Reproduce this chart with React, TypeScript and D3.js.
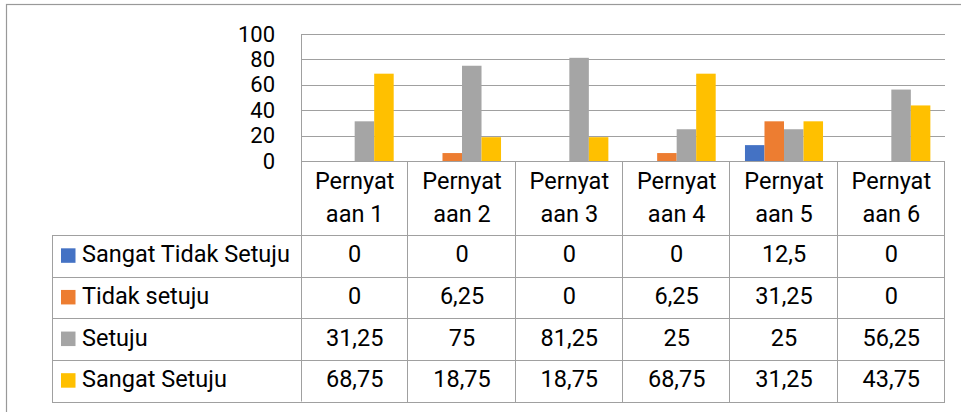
import React from "react";
import * as d3 from "d3";

const categories = ["Pernyataan 1", "Pernyataan 2", "Pernyataan 3", "Pernyataan 4", "Pernyataan 5", "Pernyataan 6"];
const headerLine1 = ["Pernyat", "Pernyat", "Pernyat", "Pernyat", "Pernyat", "Pernyat"];
const headerLine2 = ["aan 1", "aan 2", "aan 3", "aan 4", "aan 5", "aan 6"];
const seriesNames = ["Sangat Tidak Setuju", "Tidak setuju", "Setuju", "Sangat Setuju"];
const sangatTidakSetuju = [0, 0, 0, 0, 12.5, 0];
const tidakSetuju = [0, 6.25, 0, 6.25, 31.25, 0];
const setuju = [31.25, 75, 81.25, 25, 25, 56.25];
const sangatSetuju = [68.75, 18.75, 18.75, 68.75, 31.25, 43.75];
const yTicks = [0, 20, 40, 60, 80, 100];
const colors = ["#4472C4", "#ED7D31", "#A5A5A5", "#FFC000"];

const seriesValues = [sangatTidakSetuju, tidakSetuju, setuju, sangatSetuju];

const W = 961;
const H = 412;
const plotLeft = 301;
const plotRight = 945;
const plotTop = 34;
const plotBottom = 161;
const headerBottom = 235;
const tableBottom = 401.5;
const tableLeft = 52;
const lineColor = "#A0A0A0";
const font = "Roboto, 'Noto Sans', sans-serif";
const fmt = (v: number) => String(v).replace(".", ",");

export default function App() {
  const x = d3.scaleBand<string>().domain(categories).range([plotLeft, plotRight]).paddingInner(0).paddingOuter(0);
  const xs = d3
    .scaleBand<string>()
    .domain(seriesNames)
    .range([0, x.bandwidth()])
    .paddingInner(0)
    .paddingOuter(0.75);
  const y = d3.scaleLinear().domain([0, 100]).range([plotBottom, plotTop]);
  const rows = d3.scaleBand<string>().domain(seriesNames).range([headerBottom, tableBottom]);

  return (
    <svg
      width={W}
      height={H}
      style={{ position: "absolute", left: 0, top: 0, background: "#fff" }}
      fontFamily={font}
    >
      <rect x={0} y={0} width={W} height={H} fill="#fff" />
      {/* outer chart border */}
      <rect x={6.5} y={4.5} width={W + 20} height={H + 20} fill="none" stroke="#999" strokeWidth={1.2} />

      {/* gridlines */}
      {yTicks.map((t) => (
        <line
          key={"g" + t}
          x1={plotLeft}
          x2={plotRight}
          y1={Math.round(y(t)) + 0.5}
          y2={Math.round(y(t)) + 0.5}
          stroke={lineColor}
          strokeWidth={1}
        />
      ))}
      {/* y tick labels */}
      {yTicks.map((t) => (
        <text key={"t" + t} x={275} y={y(t) + 7.5} textAnchor="end" fontSize={22} fill="#000">
          {t}
        </text>
      ))}

      {/* bars */}
      {categories.map((c, ci) =>
        seriesNames.map((s, si) => {
          const v = seriesValues[si][ci];
          if (v <= 0) return null;
          return (
            <rect
              key={c + s}
              x={(x(c) as number) + (xs(s) as number)}
              y={y(v)}
              width={xs.bandwidth()}
              height={plotBottom - y(v)}
              fill={colors[si]}
            />
          );
        })
      )}

      {/* value axis line */}
      <line x1={plotLeft + 0.5} x2={plotLeft + 0.5} y1={plotTop} y2={tableBottom} stroke={lineColor} />

      {/* table horizontal lines */}
      {seriesNames.map((s) => (
        <line
          key={"h" + s}
          x1={tableLeft}
          x2={plotRight}
          y1={Math.round(rows(s) as number) + 0.5}
          y2={Math.round(rows(s) as number) + 0.5}
          stroke={lineColor}
        />
      ))}
      <line x1={tableLeft} x2={plotRight} y1={Math.round(tableBottom) + 0.5} y2={Math.round(tableBottom) + 0.5} stroke={lineColor} />
      {/* table left edge */}
      <line x1={tableLeft + 0.5} x2={tableLeft + 0.5} y1={headerBottom} y2={tableBottom + 1} stroke={lineColor} />
      {/* category boundaries */}
      {categories.map((c) => (
        <line
          key={"v" + c}
          x1={Math.round((x(c) as number) + x.bandwidth()) - 0.5}
          x2={Math.round((x(c) as number) + x.bandwidth()) - 0.5}
          y1={plotBottom}
          y2={tableBottom + 1}
          stroke={lineColor}
        />
      ))}

      {/* header labels */}
      {categories.map((c, ci) => {
        const cx = (x(c) as number) + x.bandwidth() / 2;
        return (
          <g key={"hd" + c}>
            <text x={cx} y={189} textAnchor="middle" fontSize={23.5} fill="#000">
              {headerLine1[ci]}
            </text>
            <text x={cx} y={222} textAnchor="middle" fontSize={23.5} fill="#000">
              {headerLine2[ci]}
            </text>
          </g>
        );
      })}

      {/* rows */}
      {seriesNames.map((s, si) => {
        const ry = rows(s) as number;
        const cy = ry + rows.bandwidth() / 2;
        return (
          <g key={"r" + s}>
            <rect x={61} y={cy - 7.5} width={14.5} height={14.5} fill={colors[si]} />
            <text x={82} y={cy + 6.5} fontSize={23.5} fill="#000">
              {s}
            </text>
            {categories.map((c, ci) => (
              <text
                key={"v" + c}
                x={(x(c) as number) + x.bandwidth() / 2}
                y={cy + 6.5}
                textAnchor="middle"
                fontSize={23.5}
                fill="#000"
              >
                {fmt(seriesValues[si][ci])}
              </text>
            ))}
          </g>
        );
      })}
    </svg>
  );
}
